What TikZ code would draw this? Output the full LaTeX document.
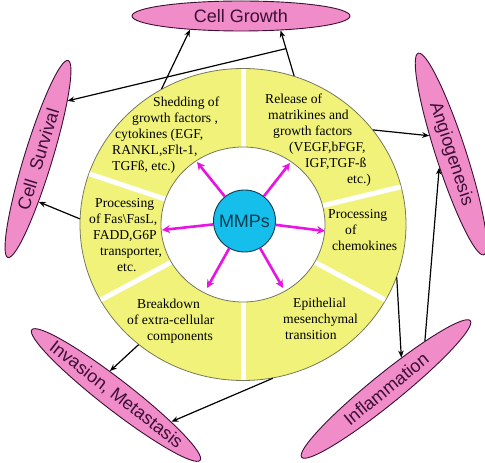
\documentclass[tikz,border=0pt]{standalone}
\usepackage{fontspec}
\setmainfont{Liberation Serif}
\newfontfamily\sansf{Liberation Sans}
\usetikzlibrary{shapes.geometric,arrows.meta,calc}
\definecolor{ringyellow}{RGB}{240,242,122}
\definecolor{pinkfill}{RGB}{240,140,200}
\definecolor{pinkline}{RGB}{60,15,55}
\definecolor{mmpfill}{RGB}{22,190,235}
\definecolor{mmpline}{RGB}{10,60,80}
\definecolor{magentaarrow}{RGB}{232,20,225}
\definecolor{ringline}{RGB}{120,120,90}
\tikzset{
  pinkell/.style={ellipse, draw=pinkline, line width=0.9pt, fill=pinkfill, inner sep=0pt,
    font=\sansf\fontsize{18}{20}\selectfont, text=pinkline},
  segtext/.style={align=left, inner sep=0pt, anchor=north west, font=\fontsize{13.6}{16}\selectfont},
  effect/.style={draw=black, line width=1.2pt, -{Stealth[length=7pt,width=5.5pt]}},
  mmparrow/.style={draw=magentaarrow, line width=2.6pt, -{Stealth[length=8pt,width=8pt]}},
  divider/.style={draw=white, line width=5pt},
  ringell/.style={ellipse, draw=ringline, line width=0.8pt, inner sep=0pt}
}
\begin{document}
\begin{tikzpicture}[x=1pt,y=1pt]
\useasboundingbox (0,0) rectangle (485,463);
\coordinate (C) at (243,238.5);
% ring
\node[ringell, fill=ringyellow, minimum width=326pt, minimum height=312pt] (ring) at (C) {};
\foreach \t in {90,14,-29,-90,-151,161}
  \draw[divider] ($(C)+(\t:70pt and 66pt)$) -- ($(C)+(\t:162.5pt and 155.5pt)$);
\node[ringell, fill=white, minimum width=164pt, minimum height=155pt] (inner) at (C) {};
% MMPs
\node[circle, draw=mmpline, line width=0.9pt, fill=mmpfill, minimum size=62pt, inner sep=0pt,
  font=\sansf\fontsize{18}{20}\selectfont, text=mmpline] (m) at (244.5,242) {MMPs};
\coordinate (e1) at (197,301);
\coordinate (e2) at (290,300);
\coordinate (e3) at (162,233);
\coordinate (e4) at (325,232);
\coordinate (e5) at (207,175);
\coordinate (e6) at (283,175);
\foreach \e in {e1,e2,e3,e4,e5,e6} \draw[mmparrow] (m) -- (\e);
% segment texts
\node[segtext] (s1) at (112,366) {\hspace*{41pt}Shedding of\\\hspace*{20pt}growth factors ,\\\hspace*{3pt}cytokines (EGF,\\RANKL,sFlt-1,\\TGFß, etc.)};
\node[segtext] (s2) at (265,369) {Release of\\\hspace*{3pt}matrikines and\\\hspace*{8pt}growth factors\\\hspace*{24pt}(VEGF,bFGF,\\\hspace*{40pt}IGF,TGF-ß\\\hspace*{82pt}etc.)};
\node[segtext] (s3) at (328,254) {Processing\\\hspace*{17pt}of\\\hspace*{4pt}chemokines};
\node[segtext] (s4) at (283,165) {\hspace*{10pt}Epithelial\\mesenchymal\\\hspace*{2pt}transition};
\node[segtext] (s5) at (127,164) {\hspace*{10pt}Breakdown\\of extra-cellular\\\hspace*{20pt}components};
\node[segtext] (s6) at (89,265) {\hspace*{6pt}Processing\\of Fas\textbackslash FasL,\\\hspace*{4pt}FADD,G6P\\\hspace*{11pt}transporter,\\\hspace*{28pt}etc.};
% outcome ellipses
\node[pinkell, minimum width=218pt, minimum height=30pt] (cg) at (241,447) {\makebox[0pt]{Cell Growth}};
\node[pinkell, minimum width=206pt, minimum height=28pt, rotate=73] (cs) at (38,304) {\makebox[0pt]{Cell\ \ Survival}};
\node[pinkell, minimum width=212pt, minimum height=30pt, rotate=-72] (ag) at (451,309) {\makebox[0pt]{Angiogenesis}};
\node[pinkell, minimum width=213pt, minimum height=30pt, rotate=-37.8] (im) at (116,68) {\makebox[0pt]{Invasion, Metastasis}};
\node[pinkell, minimum width=217pt, minimum height=30pt, rotate=39] (inf) at (386,74) {\makebox[0pt]{Inflammation}};
% connectors
\draw[effect] (ring.121) -- (cg.195);
\draw[effect] (ring.71) -- (cg.-20);
\coordinate (br) at ($(ring.71)!0.6!(cg.-20)$);
\draw[effect] (br) -- (cs.-10);
\draw[effect] (ring.178) -- (cs.-162);
\draw[effect] (ring.36) -- (ag.212);
\draw[effect] (inf.12) -- (ag.-59);
\draw[effect] (ring.341) -- (inf.25);
\draw[effect] (ring.229) -- (im.142);
\draw[effect] (ring.281) -- (im.12);
\end{tikzpicture}
\end{document}
